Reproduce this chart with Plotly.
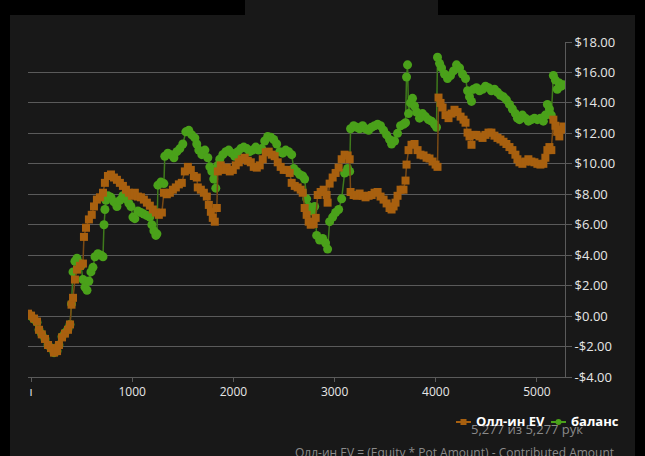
import plotly.graph_objects as go

# ---- data ----
ev_x = [-30, 0, 30, 59, 79, 106, 138, 168, 197, 227, 257, 276, 306, 335, 365, 385, 400, 415, 434, 454,
        484, 513, 523, 543, 572, 600, 622, 651, 681, 711, 730, 760, 790, 819, 849, 878, 908, 938, 967, 997,
        1026, 1056, 1086, 1115, 1145, 1174, 1204, 1234, 1263, 1293, 1313, 1342, 1372, 1402, 1431, 1461, 1490, 1520, 1550, 1579,
        1609, 1638, 1648, 1678, 1708, 1737, 1757, 1777, 1796, 1816, 1836, 1846, 1875, 1905, 1935, 1964, 1994, 2023, 2053, 2083,
        2112, 2142, 2172, 2201, 2231, 2260, 2290, 2320, 2349, 2379, 2408, 2438, 2467, 2497, 2527, 2556, 2576, 2606, 2635, 2665,
        2685, 2704, 2724, 2744, 2764, 2793, 2813, 2833, 2862, 2892, 2921, 2931, 2951, 2981, 3010, 3040, 3070, 3099, 3129, 3149,
        3158, 3188, 3218, 3247, 3277, 3306, 3336, 3366, 3395, 3425, 3454, 3484, 3514, 3543, 3563, 3583, 3602, 3622, 3652, 3681,
        3701, 3711, 3731, 3760, 3790, 3820, 3849, 3879, 3909, 3938, 3968, 3998, 4017, 4027, 4047, 4067, 4096, 4126, 4156, 4185,
        4215, 4245, 4274, 4294, 4314, 4333, 4353, 4373, 4402, 4432, 4462, 4491, 4521, 4550, 4580, 4610, 4639, 4669, 4698, 4728,
        4757, 4787, 4807, 4827, 4856, 4886, 4915, 4945, 4975, 5004, 5034, 5063, 5083, 5103, 5123, 5142, 5162, 5182, 5201, 5221,
        5241, 5261]
ev_y = [0.16, 0.03, -0.16, -0.36, -0.9, -1.2, -1.5, -1.9, -2.1, -2.4, -2.3, -1.9, -1.4, -1.15, -0.9, -0.55, 0.75, 1.2, 2.4, 3.05,
        3.3, 3.45, 5.2, 5.8, 6.35, 6.65, 7.2, 7.65, 7.8, 8.1, 8.75, 9.2, 9.3, 9.1, 8.95, 8.75, 8.55, 8.3, 8.1, 7.9,
        8.1, 7.85, 7.8, 7.65, 7.45, 7.25, 7.0, 6.8, 6.65, 6.8, 8.1, 8.0, 8.1, 8.3, 8.45, 8.65, 8.75, 9.5, 9.8, 9.6,
        9.2, 9.1, 8.45, 8.3, 8.1, 7.85, 7.3, 6.85, 6.45, 6.2, 7.1, 9.5, 9.9, 9.6, 9.75, 9.5, 9.6, 9.9, 10.1, 10.3,
        10.4, 10.2, 10.1, 9.8, 9.75, 9.9, 10.3, 10.75, 10.8, 10.6, 10.5, 10.1, 9.8, 9.6, 9.6, 9.4, 8.75, 8.55, 8.45, 8.3,
        8.1, 7.1, 6.65, 6.2, 6.0, 6.05, 6.45, 7.95, 8.15, 8.3, 7.95, 7.45, 8.7, 9.1, 9.4, 9.75, 10.3, 10.6, 10.55, 10.3,
        8.15, 7.95, 7.9, 8.05, 7.9, 7.8, 7.9, 7.95, 8.1, 8.15, 7.85, 7.65, 7.4, 7.1, 7.0, 7.2, 7.45, 7.9, 8.3, 8.3,
        8.9, 9.95, 10.9, 11.25, 11.3, 10.9, 10.6, 10.55, 10.4, 10.35, 10.15, 9.95, 9.8, 14.35, 14.0, 13.7, 13.2, 13.0, 13.3, 13.55,
        13.4, 13.1, 12.9, 12.7, 12.05, 11.8, 11.25, 11.9, 11.9, 11.8, 11.7, 11.9, 12.05, 12.05, 11.85, 11.7, 11.6, 11.45, 11.3, 11.1,
        10.9, 10.6, 10.3, 10.1, 10.0, 10.15, 10.3, 10.15, 10.1, 10.0, 9.95, 10.0, 10.4, 10.9, 11.1, 10.9, 12.9, 12.5, 12.1, 11.8,
        12.25, 12.45]

bal_x = [-30, 0, 30, 59, 79, 106, 138, 168, 197, 227, 257, 276, 306, 335, 365, 385, 400, 415, 434, 454,
         474, 494, 513, 533, 553, 572, 592, 612, 632, 661, 691, 711, 721, 730, 740, 760, 790, 819, 849, 878,
         908, 938, 967, 987, 1007, 1026, 1056, 1086, 1115, 1145, 1174, 1194, 1214, 1234, 1244, 1254, 1283, 1313, 1322, 1352,
         1382, 1412, 1441, 1471, 1500, 1530, 1559, 1589, 1619, 1638, 1658, 1688, 1718, 1747, 1767, 1787, 1806, 1826, 1846, 1865,
         1895, 1925, 1954, 1984, 2013, 2043, 2073, 2102, 2132, 2161, 2191, 2221, 2250, 2280, 2309, 2339, 2369, 2398, 2428, 2458,
         2487, 2517, 2546, 2576, 2596, 2625, 2655, 2685, 2704, 2724, 2744, 2764, 2784, 2803, 2823, 2852, 2882, 2911, 2931, 2951,
         2981, 3010, 3040, 3070, 3099, 3129, 3149, 3158, 3188, 3218, 3247, 3277, 3306, 3336, 3366, 3395, 3425, 3454, 3484, 3514,
         3543, 3563, 3593, 3622, 3652, 3681, 3701, 3711, 3721, 3731, 3750, 3770, 3790, 3810, 3839, 3869, 3898, 3928, 3958, 3987,
         4007, 4017, 4037, 4057, 4086, 4116, 4146, 4175, 4205, 4235, 4264, 4294, 4314, 4333, 4353, 4373, 4402, 4432, 4462, 4491,
         4521, 4550, 4580, 4610, 4639, 4669, 4698, 4728, 4757, 4787, 4807, 4827, 4856, 4886, 4915, 4945, 4975, 5004, 5034, 5063,
         5083, 5103, 5123, 5142, 5162, 5182, 5201, 5221, 5241, 5261]
bal_y = [0.1, 0.0, -0.2, -0.4, -0.9, -1.2, -1.5, -1.9, -2.1, -2.4, -2.3, -1.9, -1.35, -1.1, -0.85, -0.55, 0.8, 2.9, 3.6, 3.8,
         3.5, 3.3, 2.4, 1.9, 1.7, 2.3, 2.9, 3.2, 3.9, 4.1, 4.0, 3.9, 6.0, 7.0, 7.6, 7.9, 7.8, 7.5, 7.2, 7.6,
         7.9, 7.7, 7.4, 7.2, 6.5, 6.4, 6.9, 6.8, 6.7, 6.6, 6.5, 6.0, 5.6, 5.3, 5.4, 8.6, 8.8, 8.7, 10.5, 10.7,
         10.6, 10.4, 10.8, 11.0, 11.3, 12.1, 12.2, 11.9, 11.7, 11.3, 10.9, 10.6, 10.9, 10.4, 9.8, 9.5, 9.0, 8.4, 9.9, 10.3,
         10.6, 10.8, 10.9, 10.7, 10.5, 10.8, 11.0, 11.1, 11.0, 10.8, 10.9, 11.1, 10.9, 11.0, 11.5, 11.8, 11.75, 11.6, 11.3, 10.8,
         10.7, 10.9, 10.8, 10.6, 9.7, 9.5, 9.3, 9.2, 9.0, 7.7, 7.2, 7.0, 6.9, 7.2, 5.3, 5.0, 5.1, 4.8, 4.4, 6.2,
         6.5, 6.8, 7.0, 7.7, 9.4, 9.7, 9.5, 12.3, 12.5, 12.4, 12.3, 12.5, 12.3, 12.2, 12.4, 12.5, 12.6, 12.5, 12.2, 11.9,
         11.6, 11.3, 11.5, 12.0, 12.5, 12.6, 12.7, 15.7, 16.5, 13.3, 14.0, 14.3, 13.8, 13.4, 13.0, 13.3, 13.1, 12.9, 12.8, 12.6,
         12.4, 17.0, 16.6, 16.3, 15.9, 15.6, 15.8, 16.1, 16.5, 16.3, 15.9, 15.6, 14.8, 14.4, 14.1, 14.9, 15.0, 14.8, 14.9, 15.1,
         15.0, 14.8, 14.9, 14.7, 14.5, 14.4, 14.2, 13.9, 13.6, 13.3, 13.0, 12.9, 13.2, 13.0, 12.8, 12.9, 13.0, 12.9, 13.0, 12.8,
         13.2, 13.9, 13.6, 13.2, 15.8, 15.5, 14.9, 15.3, 15.1, 15.2]

y_ticks = [-4, -2, 0, 2, 4, 6, 8, 10, 12, 14, 16, 18]
y_labels = ["-$4.00", "-$2.00", "$0.00", "$2.00", "$4.00", "$6.00", "$8.00",
            "$10.00", "$12.00", "$14.00", "$16.00", "$18.00"]
x_ticks = [0, 1000, 2000, 3000, 4000, 5000]
x_labels = ["ı", "1000", "2000", "3000", "4000", "5000"]

series_names = ["Олл-ин EV", "баланс"]
hands_text = "5,277 из 5,277 рук"
footer_text = "Олл-ин EV = (Equity * Pot Amount) - Contributed Amount"

# ---- styling ----
W, H = 645, 456
L, R, T, B = 28, 80, 42, 79
pw, ph = W - L - R, H - T - B

def px_x(p):
    return (p - L) / pw

def px_y(p):
    return (H - B - p) / ph

ORANGE = "#a8600f"
GREEN = "#4aa11a"
ORANGE_LINE = "#7a4a14"
GREEN_LINE = "#3f7a1c"
FONT = "Open Sans"

fig = go.Figure()
fig.add_trace(go.Scatter(
    x=bal_x, y=bal_y, name=series_names[1], mode="lines+markers",
    line=dict(color=GREEN_LINE, width=1.5),
    marker=dict(symbol="circle", size=9, color=GREEN),
    showlegend=False,
))
fig.add_trace(go.Scatter(
    x=ev_x, y=ev_y, name=series_names[0], mode="lines+markers",
    line=dict(color=ORANGE_LINE, width=1.5),
    marker=dict(symbol="square", size=8, color=ORANGE),
    showlegend=False,
))

def rect(x0, x1, y0, y1, color, layer="below", kind="rect"):
    return dict(type=kind, xref="paper", yref="paper",
                x0=px_x(x0), x1=px_x(x1), y0=px_y(y1), y1=px_y(y0),
                fillcolor=color, line_width=0, layer=layer)

shapes = [
    # black page frame around the dark panel
    rect(0, 10, 0, H, "#000000"),
    rect(0, 245, 0, 15, "#000000"),
    rect(438, W, 0, 15, "#000000"),
    rect(635, W, 0, H, "#000000"),
    # legend icons
    dict(type="line", xref="paper", yref="paper", x0=px_x(456), x1=px_x(471), y0=px_y(422), y1=px_y(422),
         line=dict(color=ORANGE, width=2), layer="above"),
    rect(460.5, 466.5, 419, 425, ORANGE, layer="above"),
    dict(type="line", xref="paper", yref="paper", x0=px_x(551), x1=px_x(566), y0=px_y(422), y1=px_y(422),
         line=dict(color=GREEN, width=2), layer="above"),
    rect(555.5, 561.5, 419, 425, GREEN, layer="above", kind="circle"),
]

fig.update_layout(
    width=W, height=H,
    margin=dict(l=L, r=R, t=T, b=B, autoexpand=False),
    paper_bgcolor="#181818", plot_bgcolor="#181818",
    font=dict(family=FONT, color="#e6e6e6", size=12),
    shapes=shapes,
    showlegend=False,
    xaxis=dict(range=[-30, 5277], tickvals=x_ticks, ticktext=x_labels, automargin=False,
               showgrid=False, zeroline=False, showline=True, linecolor="#5a5a5a", linewidth=1,
               ticks="outside", ticklen=4, tickcolor="#5a5a5a",
               tickfont=dict(family=FONT, size=12, color="#e6e6e6")),
    yaxis=dict(range=[-4, 18], side="right", tickvals=y_ticks, ticktext=y_labels, automargin=False,
               showgrid=True, gridcolor="#5a5a5a", gridwidth=1, zeroline=False,
               showline=True, linecolor="#5a5a5a", linewidth=1,
               ticks="outside", ticklen=6, tickcolor="#5a5a5a",
               tickfont=dict(family=FONT, size=13, color="#e6e6e6")),
    annotations=[
        dict(text=hands_text, xref="paper", yref="paper", x=px_x(469), y=px_y(429),
             xanchor="left", yanchor="middle", showarrow=False,
             font=dict(family=FONT, size=13, color="#8a8a8a")),
        dict(text=footer_text, xref="paper", yref="paper", x=px_x(616), y=px_y(452),
             xanchor="right", yanchor="middle", showarrow=False,
             font=dict(family=FONT, size=12, color="#8a8a8a")),
        dict(text="<b>" + series_names[0] + "</b>", xref="paper", yref="paper", x=px_x(474), y=px_y(421),
             xanchor="left", yanchor="middle", showarrow=False,
             font=dict(family=FONT, size=13, color="#ffffff")),
        dict(text="<b>" + series_names[1] + "</b>", xref="paper", yref="paper", x=px_x(569), y=px_y(421),
             xanchor="left", yanchor="middle", showarrow=False,
             font=dict(family=FONT, size=13, color="#ffffff")),
    ],
)

fig.write_html(
    "out.html",
    config={"displayModeBar": False},
    post_script="document.body.style.margin='0';document.body.style.background='#000';",
)
